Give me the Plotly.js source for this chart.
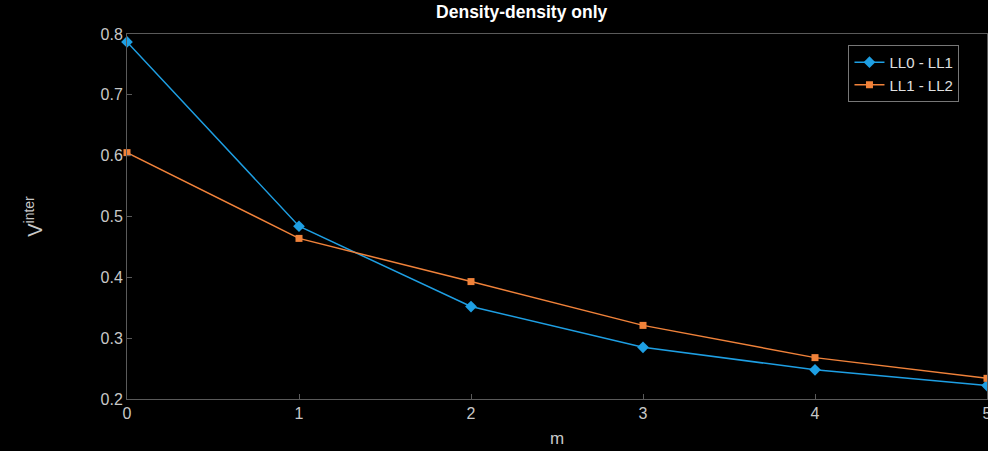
<!DOCTYPE html>
<html><head><meta charset="utf-8">
<script src="https://cdn.plot.ly/plotly-3.0.1.min.js"></script>
<style>html,body{margin:0;padding:0;background:#000;}</style>
</head><body>
<div id="chart" style="width:988px;height:451px;"></div>
<script>
const m = [0, 1, 2, 3, 4, 5];
const ll01 = [0.787, 0.484, 0.352, 0.285, 0.248, 0.222];
const ll12 = [0.605, 0.464, 0.393, 0.321, 0.268, 0.234];
const xTicks = [0, 1, 2, 3, 4, 5];
const yTicks = [0.2, 0.3, 0.4, 0.5, 0.6, 0.7, 0.8];

const FONT = 'Liberation Sans, Arial, sans-serif';
const traces = [
  {x: m, y: ll01, name: 'LL0 - LL1', mode: 'lines+markers', type: 'scatter',
   line: {color: '#1E9FE3', width: 1.5}, marker: {symbol: 'diamond', size: 9, color: '#1E9FE3'}, cliponaxis: false},
  {x: m, y: ll12, name: 'LL1 - LL2', mode: 'lines+markers', type: 'scatter',
   line: {color: '#F0823A', width: 1.5}, marker: {symbol: 'square', size: 7, color: '#F0823A'}, cliponaxis: false}
];
const axisCommon = {showgrid: false, zeroline: false, showline: true, linecolor: '#5a5a5a', linewidth: 1,
  ticks: 'inside', ticklen: 5, tickcolor: '#5a5a5a', mirror: true, ticklabeloverflow: 'allow',
  tickfont: {family: FONT, size: 16, color: '#c8c8c8'}};
const layout = {
  width: 988, height: 451,
  paper_bgcolor: '#000', plot_bgcolor: '#000',
  margin: {l: 127, r: 1, t: 34, b: 52},
  title: {text: '<b>Density-density only</b>', x: 0.528, xanchor: 'center', y: 0.988, yanchor: 'top',
    font: {family: FONT, size: 17.5, color: '#ffffff'}},
  xaxis: Object.assign({}, axisCommon, {range: [0, 5], tickvals: xTicks, ticktext: xTicks.map(String),
    title: {text: 'm', standoff: 10, font: {family: FONT, size: 17, color: '#c8c8c8'}}}),
  yaxis: Object.assign({}, axisCommon, {range: [0.2, 0.8], tickvals: yTicks, ticktext: yTicks.map(v => v.toFixed(1)),
    title: {text: 'V<sup>inter</sup>', standoff: 52, font: {family: FONT, size: 20, color: '#c8c8c8'}}}),
  showlegend: true,
  legend: {x: 0.968, xanchor: 'right', y: 0.97, yanchor: 'top', bgcolor: '#000', bordercolor: '#777', borderwidth: 1,
    font: {family: FONT, size: 15, color: '#e0e0e0'}, tracegroupgap: 0, itemwidth: 30}
};
Plotly.newPlot('chart', traces, layout, {displayModeBar: false, staticPlot: true});
</script>
</body></html>
